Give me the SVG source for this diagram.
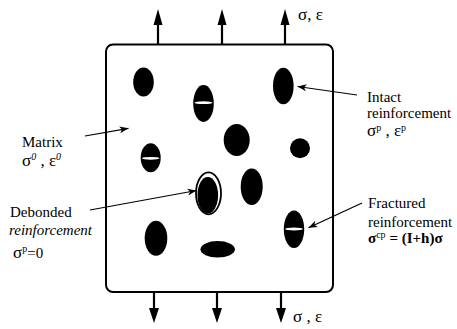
<svg xmlns="http://www.w3.org/2000/svg" width="457" height="329" viewBox="0 0 457 329">
<style>
.t{font-family:"Liberation Serif","Times New Roman",serif;font-size:15px;fill:#000}
.g{font-size:17px}
.sup{font-size:10px}
.load{stroke:#000;stroke-width:2.2;fill:none}
.lead{stroke:#000;stroke-width:1.2;fill:none}
.p{fill:#000}
.crack{fill:#fff}
</style>
<defs>
<marker id="lh" markerWidth="10" markerHeight="8" refX="9" refY="4" orient="auto" markerUnits="userSpaceOnUse">
<path d="M0,0.5 L9,4 L0,7.5 L2.5,4 Z" fill="#000"/>
</marker>
</defs>
<g id="specimen">
<rect x="106" y="44.5" width="227" height="247.5" rx="7" fill="#fff" stroke="#000" stroke-width="2"/>
</g>
<g id="loads">
<g id="top-arrows">
<line class="load" x1="158" y1="44" x2="158" y2="22"/><path d="M153.5,25 L158,9 L162.5,25 Z"/>
<line class="load" x1="222" y1="44" x2="222" y2="22"/><path d="M217.5,25 L222,9 L226.5,25 Z"/>
<line class="load" x1="285" y1="44" x2="285" y2="22"/><path d="M280.5,25 L285,9 L289.5,25 Z"/>
<text class="t g" x="298" y="20">σ, ε</text>
</g>
<g id="bottom-arrows">
<line class="load" x1="154" y1="292" x2="154" y2="311"/><path d="M149,308 L154,323 L159,308 Z"/>
<line class="load" x1="217" y1="292" x2="217" y2="311"/><path d="M212,308 L217,323 L222,308 Z"/>
<line class="load" x1="281" y1="292" x2="281" y2="311"/><path d="M276,308 L281,323 L286,308 Z"/>
<text class="t g" x="293" y="322">σ , ε</text>
</g>
</g>
<g id="particles">
<ellipse id="p1" class="p" cx="143.5" cy="82" rx="10.3" ry="14.5"/>
<g id="p2"><ellipse class="p" cx="203.5" cy="103.5" rx="10.3" ry="18.5"/><ellipse class="crack" cx="203.5" cy="102.7" rx="9" ry="1.4"/></g>
<ellipse id="p3" class="p" cx="283.3" cy="86" rx="10.3" ry="18.3"/>
<ellipse id="p4" class="p" cx="236.7" cy="140" rx="13" ry="16"/>
<ellipse id="p5" class="p" cx="300" cy="148.3" rx="10" ry="10"/>
<g id="p6"><ellipse class="p" cx="150.7" cy="157.7" rx="10" ry="14.5"/><ellipse class="crack" cx="150.7" cy="158.3" rx="8.8" ry="1.4"/></g>
<g id="p7"><ellipse cx="208.5" cy="193.3" rx="12.5" ry="21" fill="#fff" stroke="#000" stroke-width="1.8"/><ellipse class="p" cx="207.8" cy="195.3" rx="10.3" ry="18.3"/></g>
<ellipse id="p8" class="p" cx="251.7" cy="186.7" rx="11" ry="18.3"/>
<g id="p9"><ellipse class="p" cx="294" cy="229.3" rx="10.2" ry="18.8"/><ellipse class="crack" cx="294" cy="229" rx="9" ry="1.4"/></g>
<ellipse id="p10" class="p" cx="156" cy="238.3" rx="11.3" ry="17.5"/>
<ellipse id="p11" class="p" cx="217.7" cy="249.3" rx="17.2" ry="8.3"/>
</g>
<g id="connectors">
<line class="lead" x1="357" y1="95" x2="297.5" y2="86.5" marker-end="url(#lh)"/>
<line class="lead" x1="85" y1="136" x2="128.5" y2="128.3" marker-end="url(#lh)"/>
<line class="lead" x1="90" y1="210" x2="196.5" y2="190.5" marker-end="url(#lh)"/>
<line class="lead" x1="362" y1="203" x2="308.5" y2="227.7" marker-end="url(#lh)"/>
</g>
<g id="label-matrix">
<text class="t" x="22" y="146.5">Matrix</text>
<text class="t g" x="22" y="165.5">σ<tspan class="sup" font-style="italic" dy="-6">0</tspan><tspan dy="6"> ,  ε</tspan><tspan class="sup" font-style="italic" dy="-6">0</tspan></text>
</g>
<g id="label-debonded">
<text class="t" x="10" y="216.5">Debonded</text>
<text class="t" x="9" y="235" font-style="italic">reinforcement</text>
<text class="t" x="13" y="257.5"><tspan class="g">σ</tspan><tspan class="sup" dy="-6">p</tspan><tspan dy="6">=0</tspan></text>
</g>
<g id="label-intact">
<text class="t" x="367" y="101.5">Intact</text>
<text class="t" x="367" y="118">reinforcement</text>
<text class="t g" x="367" y="136">σ<tspan class="sup" dy="-5">p</tspan><tspan dy="5"> ,  ε</tspan><tspan class="sup" dy="-5">p</tspan></text>
</g>
<g id="label-fractured">
<text class="t" x="368" y="208.3">Fractured</text>
<text class="t" x="368" y="226.7">reinforcement</text>
<text class="t" x="368" y="243" font-weight="bold">σ<tspan class="sup" font-weight="normal" dy="-5">cp</tspan><tspan dy="5"> = (I+h)σ</tspan></text>
</g>
</svg>
